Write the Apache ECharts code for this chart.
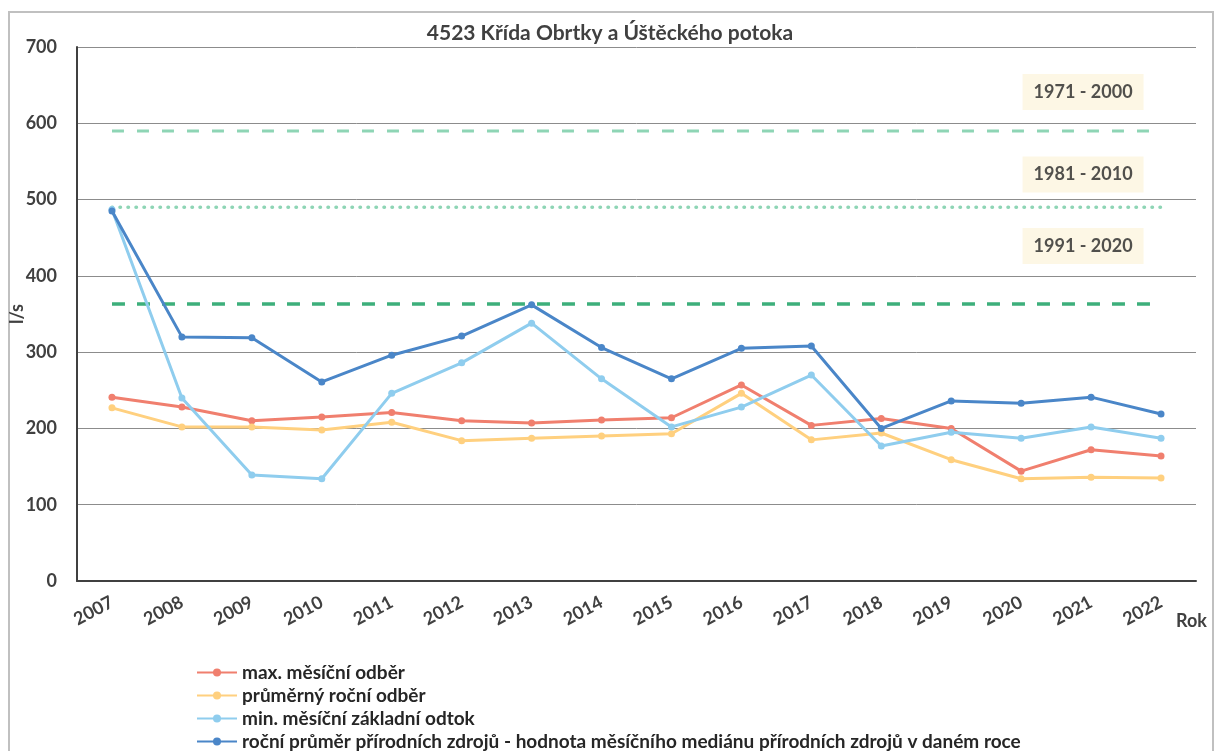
<!DOCTYPE html>
<html>
<head>
<meta charset="utf-8">
<script src="https://cdn.jsdelivr.net/npm/echarts@6/dist/echarts.min.js"></script>
<style>
  html, body { margin: 0; padding: 0; background: #fff; }
  #chart { width: 1220px; height: 751px; }
</style>
</head>
<body>
<div id="chart"></div>
<script>
// roky a hodnoty (l/s)
const years = ['2007', '2008', '2009', '2010', '2011', '2012', '2013', '2014',
               '2015', '2016', '2017', '2018', '2019', '2020', '2021', '2022']
const maxOdber = [241, 228, 210, 215, 221, 210, 207, 211, 214, 257, 204, 213, 200, 144, 172, 164]
const prumOdber = [227, 202, 202, 198, 208, 184, 187, 190, 193, 246, 185, 194, 159, 134, 136, 135]
const minOdtok = [487, 240, 139, 134, 246, 286, 338, 265, 202, 228, 270, 177, 195, 187, 202, 187]
const prumZdroje = [485, 320, 319, 261, 296, 321, 362, 306, 265, 305, 308, 200, 236, 233, 241, 219]

// dlouhodobé průměry a kde stojí jejich popisky
const refPeriods = ['1971 - 2000', '1981 - 2010', '1991 - 2020']
const refValues = [590, 490, 363]
const refLabelValues = [641, 533, 439]
const refLabelYear = '2021'

const seriesNames = [
    'max. měsíční odběr',
    'průměrný roční odběr',
    'min. měsíční základní odtok',
    'roční průměr přírodních zdrojů - hodnota měsíčního mediánu přírodních zdrojů v daném roce'
]
const seriesData = [maxOdber, prumOdber, minOdtok, prumZdroje]
const seriesColors = ['#f07f6e', '#ffd07f', '#8fcdee', '#4a86c8']

const refStyles = [
    { color: '#8ed5b5', width: 3, type: [12, 13] },
    { color: '#8ed5b5', width: 3.5, type: [0.5, 7.5], cap: 'round' },
    { color: '#3daf7b', width: 3.5, type: [13, 12] }
]

const FONT = 'Lato'

let chart = echarts.init(document.getElementById('chart'))

let series = []
refValues.forEach((v, i) => {
    series.push({
        type: 'line',
        name: refPeriods[i],
        data: years.map(() => v),
        symbol: 'none',
        silent: true,
        lineStyle: refStyles[i],
        z: 1
    })
})
seriesNames.forEach((n, i) => {
    series.push({
        type: 'line',
        name: n,
        data: seriesData[i],
        symbol: 'circle',
        symbolSize: 7,
        itemStyle: { color: seriesColors[i] },
        lineStyle: { color: seriesColors[i], width: 3 },
        z: 3 + i
    })
})
// popisky období
series.push({
    type: 'scatter',
    data: refPeriods.map((p, i) => ({ name: p, value: [refLabelYear, refLabelValues[i]] })),
    symbolSize: 1,
    itemStyle: { color: 'rgba(0,0,0,0)' },
    silent: true,
    label: {
        show: true,
        position: 'inside',
        formatter: '{b}',
        offset: [-8, 0],
        fontFamily: FONT,
        fontSize: 18,
        fontWeight: 'bold',
        color: '#262626',
        backgroundColor: '#fdf5df',
        padding: [9, 11]
    },
    z: 10
})

let option = {
    animation: false,
    backgroundColor: '#fff',
    title: {
        text: '4523 Křída Obrtky a Úštěckého potoka',
        left: 'center',
        top: 18,
        textStyle: { fontFamily: FONT, fontSize: 21, fontWeight: 'bold', color: '#404040' }
    },
    legend: {
        data: seriesNames,
        orient: 'vertical',
        left: 196,
        top: 663,
        height: 120,
        padding: 0,
        itemWidth: 40,
        itemHeight: 10,
        itemGap: 4,
        textStyle: { fontFamily: FONT, fontSize: 19, fontWeight: 'bold', color: '#262626', lineHeight: 19 }
    },
    grid: { left: 77, right: 24, top: 47, bottom: 170, outerBoundsMode: 'none' },
    xAxis: {
        type: 'category',
        data: years,
        boundaryGap: true,
        name: 'Rok',
        nameLocation: 'end',
        nameGap: -20,
        nameMoveOverlap: false,
        nameTextStyle: {
            fontFamily: FONT, fontSize: 18, fontWeight: 'bold', color: '#404040',
            verticalAlign: 'top', padding: [31, 0, 0, 0]
        },
        axisLine: { lineStyle: { color: '#404040', width: 2 } },
        axisTick: { length: 5, lineStyle: { color: '#404040', width: 1.5 } },
        axisLabel: {
            rotate: 28, margin: 20, interval: 0,
            fontFamily: FONT, fontSize: 18, fontWeight: 'bold', color: '#404040'
        }
    },
    yAxis: {
        type: 'value',
        min: 0,
        max: 700,
        interval: 100,
        name: 'l/s',
        nameLocation: 'middle',
        nameGap: 51,
        nameMoveOverlap: false,
        nameTextStyle: { fontFamily: FONT, fontSize: 18, fontWeight: 'bold', color: '#404040' },
        axisLine: { show: true, lineStyle: { color: '#404040', width: 2 } },
        axisTick: { show: false },
        axisLabel: { margin: 20, fontFamily: FONT, fontSize: 18, fontWeight: 'bold', color: '#404040' },
        splitLine: { lineStyle: { color: '#8c8c8c', width: 1 } }
    },
    graphic: [{
        type: 'rect',
        silent: true,
        z: -10,
        shape: { x: 9, y: 12, width: 1204, height: 760 },
        style: { fill: null, stroke: '#c0c0c0', lineWidth: 2 }
    }],
    series: series
}

chart.setOption(option)
</script>
</body>
</html>
